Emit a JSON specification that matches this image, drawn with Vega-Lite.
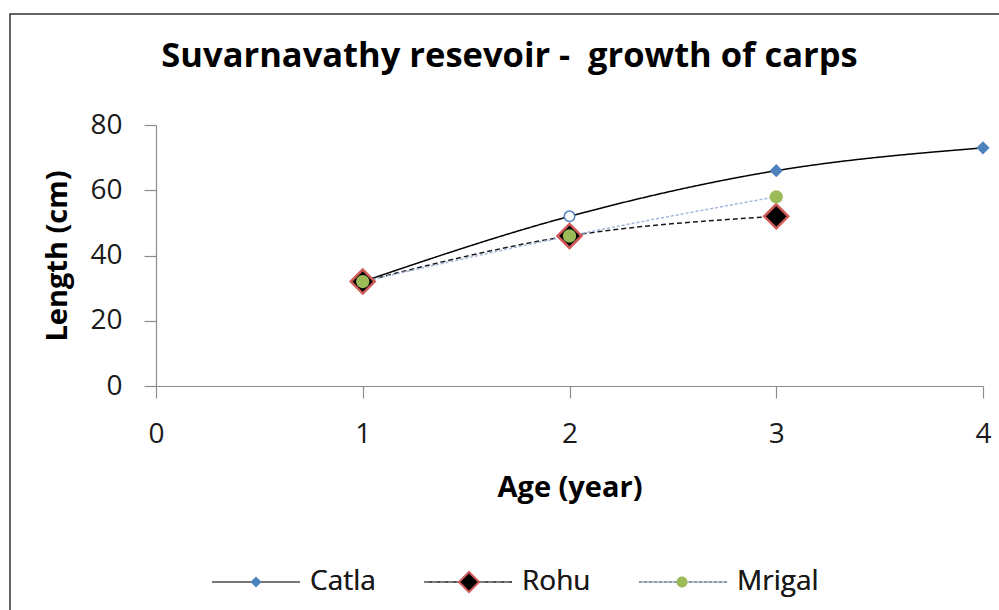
{
  "$schema": "https://vega.github.io/schema/vega-lite/v6.json",
  "width": 999,
  "height": 606,
  "autosize": {"type": "none"},
  "padding": {"left": 10, "top": 14, "right": -10, "bottom": -10},
  "background": "white",
  "config": {
    "view": {"stroke": "#333333", "strokeWidth": 1.5},
    "font": "Open Sans",
    "axis": {
      "grid": false,
      "domainColor": "#8c8c8c",
      "tickColor": "#8c8c8c",
      "domainWidth": 1.2,
      "tickWidth": 1.2,
      "tickSize": 12,
      "labelFont": "Open Sans",
      "labelFontSize": 28,
      "labelColor": "#1a1a1a",
      "labelPadding": 22,
      "labelFlush": false,
      "labelOverlap": false,
      "titleFont": "Open Sans",
      "titleFontSize": 29,
      "titleFontWeight": "bold",
      "titleColor": "#000000"
    },
    "legend": {
      "labelFont": "Open Sans",
      "labelFontSize": 28,
      "labelColor": "#1a1a1a",
      "padding": 0
    }
  },
  "title": {
    "text": "Suvarnavathy resevoir - \u00a0growth of carps",
    "font": "Open Sans",
    "fontSize": 34.5,
    "fontWeight": "bold",
    "color": "#000000",
    "anchor": "middle",
    "frame": "group",
    "baseline": "alphabetic",
    "offset": -53,
    "dy": 34
  },
  "data": {
    "values": [
      {"series": "Catla", "age": 1, "length": 32},
      {"series": "Catla", "age": 2, "length": 52},
      {"series": "Catla", "age": 3, "length": 66},
      {"series": "Catla", "age": 4, "length": 73},
      {"series": "Rohu", "age": 1, "length": 32},
      {"series": "Rohu", "age": 2, "length": 46},
      {"series": "Rohu", "age": 3, "length": 52},
      {"series": "Mrigal", "age": 1, "length": 32},
      {"series": "Mrigal", "age": 2, "length": 46},
      {"series": "Mrigal", "age": 3, "length": 58}
    ]
  },
  "encoding": {
    "x": {
      "field": "age",
      "type": "quantitative",
      "scale": {"domain": [0, 4], "range": [146, 973]},
      "axis": {
        "orient": "bottom",
        "offset": -234,
        "values": [0, 1, 2, 3, 4],
        "format": "d",
        "title": "Age (year)",
        "titleY": 110,
        "titleBaseline": "alphabetic"
      }
    },
    "y": {
      "field": "length",
      "type": "quantitative",
      "scale": {"domain": [0, 80], "range": [372, 111]},
      "axis": {
        "orient": "left",
        "offset": -146,
        "values": [0, 20, 40, 60, 80],
        "format": "d",
        "title": "Length (cm)",
        "titleX": -90,
        "titleBaseline": "alphabetic"
      }
    }
  },
  "layer": [
    {
      "mark": {"type": "line", "interpolate": "monotone", "strokeWidth": 1.5},
      "encoding": {
        "color": {
          "field": "series",
          "type": "nominal",
          "sort": ["Catla", "Rohu", "Mrigal"],
          "scale": {"range": ["#000000", "#1a1a1a", "#a3b8dc"]},
          "legend": {
            "orient": "none",
            "legendX": 201,
            "legendY": 523,
            "direction": "horizontal",
            "columns": 3,
            "title": null,
            "symbolType": "stroke",
            "symbolSize": 7744,
            "symbolStrokeWidth": 1.5,
            "labelOffset": 9,
            "columnPadding": 45
          }
        },
        "strokeDash": {
          "field": "series",
          "type": "nominal",
          "sort": ["Catla", "Rohu", "Mrigal"],
          "scale": {"range": [[1, 0], [5, 3], [3, 2]]},
          "legend": {
            "orient": "none",
            "legendX": 201,
            "legendY": 523,
            "direction": "horizontal",
            "columns": 3,
            "title": null,
            "symbolType": "stroke",
            "symbolSize": 7744,
            "symbolStrokeWidth": 1.5,
            "labelOffset": 9,
            "columnPadding": 45
          }
        }
      }
    },
    {
      "transform": [{"filter": "!(datum.series === 'Catla' && datum.age === 2)"}],
      "mark": {"type": "point", "filled": true, "size": 576, "strokeWidth": 2.5, "opacity": 1},
      "encoding": {
        "shape": {
          "field": "series",
          "type": "nominal",
          "scale": {
            "domain": ["Catla", "Rohu", "Mrigal"],
            "range": [
              "M0,-0.55L0.55,0L0,0.55L-0.55,0Z",
              "M0,-1L1,0L0,1L-1,0Z",
              "M0.55,0A0.55,0.55,0,1,1,-0.55,0A0.55,0.55,0,1,1,0.55,0Z"
            ]
          },
          "legend": {
            "orient": "none",
            "legendX": 201,
            "legendY": 554,
            "direction": "horizontal",
            "columns": 3,
            "title": null,
            "symbolSize": 400,
            "symbolStrokeWidth": 2,
            "symbolOffset": 31,
            "labelOffset": 0,
            "labelExpr": "''",
            "columnPadding": 154,
            "zindex": 1
          }
        },
        "fill": {
          "field": "series",
          "type": "nominal",
          "scale": {"domain": ["Catla", "Rohu", "Mrigal"], "range": ["#4f81bd", "#000000", "#9bbb59"]}
        },
        "stroke": {
          "field": "series",
          "type": "nominal",
          "scale": {"domain": ["Catla", "Rohu", "Mrigal"], "range": ["rgba(0,0,0,0)", "#cf5a57", "rgba(0,0,0,0)"]}
        }
      }
    },
    {
      "transform": [{"filter": "datum.series === 'Catla' && datum.age === 2"}],
      "mark": {"type": "point", "shape": "circle", "filled": true, "fill": "#ffffff", "stroke": "#4f81bd", "strokeWidth": 1.5, "size": 110, "opacity": 1}
    }
  ]
}
